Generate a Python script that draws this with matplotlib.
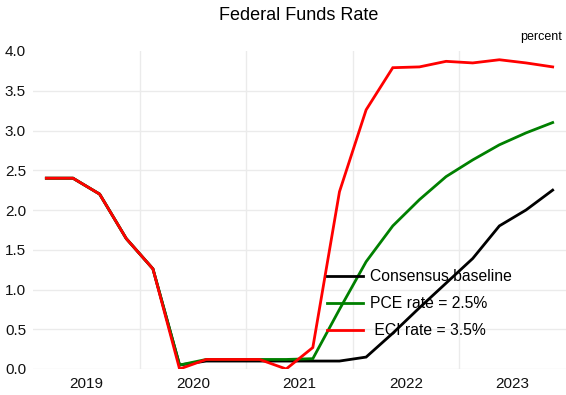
import matplotlib
matplotlib.use("Agg")
import matplotlib.pyplot as plt
from matplotlib.ticker import FixedLocator, NullFormatter, FixedFormatter

plt.rcParams['font.family'] = ['Liberation Sans', 'DejaVu Sans']

# quarterly data, 2019Q1 .. 2023Q4
years = [2019, 2020, 2021, 2022, 2023]
quarters = [(y, q) for y in years for q in (1, 2, 3, 4)]

consensus = [2.40, 2.40, 2.20, 1.64, 1.26, 0.05, 0.10, 0.10, 0.10, 0.10,
             0.10, 0.10, 0.15, 0.45, 0.77, 1.08, 1.39, 1.80, 2.00, 2.25]
pce = [2.40, 2.40, 2.20, 1.64, 1.26, 0.05, 0.12, 0.12, 0.12, 0.12,
       0.13, 0.75, 1.35, 1.80, 2.13, 2.42, 2.63, 2.82, 2.97, 3.10]
eci = [2.40, 2.40, 2.20, 1.64, 1.26, 0.00, 0.12, 0.12, 0.12, 0.00,
       0.27, 2.23, 3.26, 3.79, 3.80, 3.87, 3.85, 3.89, 3.85, 3.80]

labels = ["Consensus baseline", "PCE rate = 2.5%", " ECI rate = 3.5%"]
colors = ["black", "#008000", "#ff0000"]

x = [y + (q - 0.5) / 4 for y, q in quarters]

fig = plt.figure(figsize=(5.66, 3.95), dpi=100)
ax = fig.add_axes([33 / 566, 26 / 395, 533 / 566, 318 / 395])

for vals, lab, c in zip([consensus, pce, eci], labels, colors):
    ax.plot(x, vals, color=c, lw=2.0, label=lab, solid_joinstyle="miter")

ax.set_xlim(2019, 2024)
ax.set_ylim(0, 4)

ax.xaxis.set_major_locator(FixedLocator([2020, 2021, 2022, 2023]))
ax.xaxis.set_major_formatter(NullFormatter())
ax.xaxis.set_minor_locator(FixedLocator([y + 0.5 for y in years]))
ax.xaxis.set_minor_formatter(FixedFormatter([str(y) for y in years]))
ax.set_yticks([i * 0.5 for i in range(9)])
ax.set_yticklabels(["%.1f" % (i * 0.5) for i in range(9)])

ax.tick_params(which="both", length=0, labelsize=11, colors="#111111")
ax.tick_params(axis="x", which="minor", pad=6)
ax.tick_params(axis="y", pad=5)

ax.grid(True, color="#ebebeb", lw=1.0)
ax.set_axisbelow(True)
ax.get_ygridlines()[-1].set_visible(False)
for s in ax.spines.values():
    s.set_visible(False)

fig.text(299 / 566, 1 - 15 / 395, "Federal Funds Rate", ha="center", va="center",
         fontsize=13)
fig.text(562 / 566, 1 - 37 / 395, "percent", ha="right", va="center", fontsize=9)

ax.legend(loc="upper left", bbox_to_anchor=(327 / 566, 1 - 269 / 395),
          bbox_transform=fig.transFigure, frameon=False, fontsize=11.3,
          handlelength=2.3, handletextpad=0.45, labelspacing=0.78,
          borderpad=0, borderaxespad=0)

fig.savefig("out.png", dpi=100)
